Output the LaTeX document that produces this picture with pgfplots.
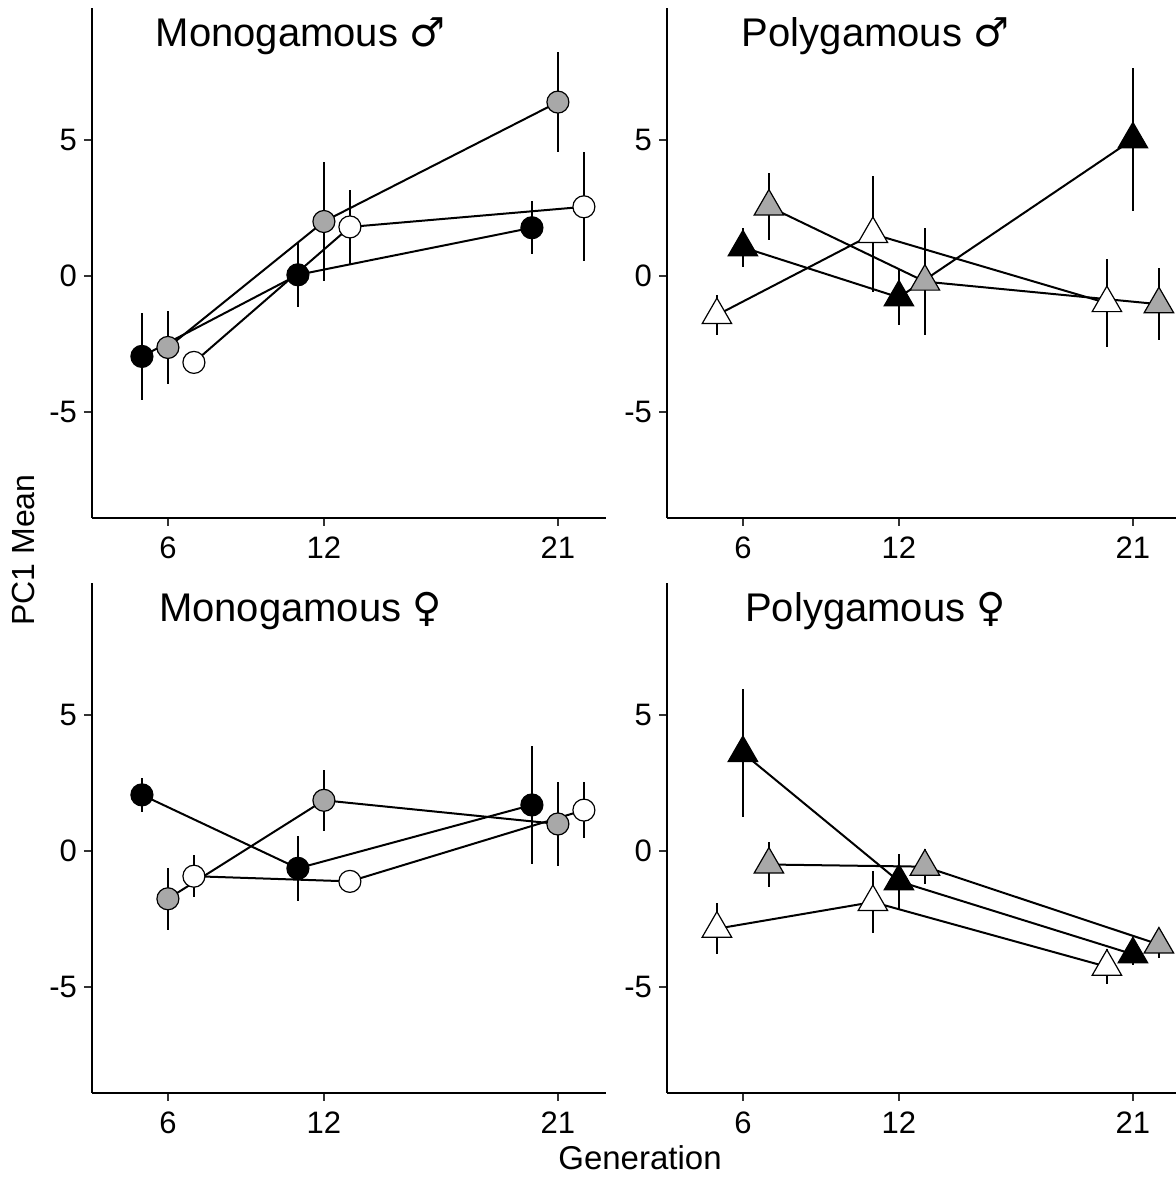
\documentclass[border=0pt]{standalone}
\usepackage{fontspec}
\setmainfont{Liberation Sans}
\newfontfamily\sym{DejaVu Sans}
\usepackage{pgfplots}
\usepackage{pgfplotstable}
\pgfplotsset{compat=1.18}
\definecolor{pgrey}{HTML}{A8A8A8}

% one table per series: x is generation (dodged by +-1), e = SE
\pgfplotstableread{
x y e
5 -2.96 1.60
11 0.04 1.20
20 1.77 0.98
}\TLb
\pgfplotstableread{
x y e
6 -2.63 1.35
12 2.00 2.20
21 6.39 1.85
}\TLg
\pgfplotstableread{
x y e
7 -3.18 0.30
13 1.80 1.35
22 2.54 2.00
}\TLw
\pgfplotstableread{
x y e
5 -1.44 0.75
11 1.54 2.15
20 -1.00 1.62
}\TRw
\pgfplotstableread{
x y e
6 1.05 0.72
12 -0.79 1.02
21 5.02 2.64
}\TRb
\pgfplotstableread{
x y e
7 2.55 1.24
13 -0.21 1.98
22 -1.04 1.33
}\TRg
\pgfplotstableread{
x y e
5 2.06 0.62
11 -0.64 1.20
20 1.69 2.17
}\BLb
\pgfplotstableread{
x y e
6 -1.76 1.15
12 1.86 1.12
21 0.99 1.53
}\BLg
\pgfplotstableread{
x y e
7 -0.93 0.78
13 -1.12 0.30
22 1.50 1.02
}\BLw
\pgfplotstableread{
x y e
5 -2.86 0.93
11 -1.88 1.13
20 -4.26 0.64
}\BRw
\pgfplotstableread{
x y e
6 3.60 2.35
12 -1.12 1.00
21 -3.80 0.40
}\BRb
\pgfplotstableread{
x y e
7 -0.50 0.84
13 -0.58 0.64
22 -3.44 0.50
}\BRg

\pgfplotsset{
  panel/.style={scale only axis, width=257pt, height=255pt,
    xmin=3.08, xmax=22.85, ymin=-8.9, ymax=9.85,
    axis x line*=bottom, axis y line*=left,
    xtick={6,12,21}, ytick={-5,0,5},
    tick align=outside, major tick length=4pt,
    axis line style={line width=1.3pt},
    tick style={line width=1.1pt, black!80},
    ticklabel style={font=\fontsize{15.5}{17}\selectfont},
    xticklabel style={yshift=-2pt},
    /pgf/number format/assume math mode=true,
    clip=false, anchor=south west},
  conn/.style={black, line width=1pt, mark=none,
    error bars/y dir=both, error bars/y explicit,
    error bars/error mark=none,
    error bars/error bar style={line width=1.4pt}},
  circ/.style={only marks, mark=*, mark size=5.5pt,
    mark options={draw=black, fill=#1, line width=0.6pt}},
  tri/.style={only marks, mark=triangle*, mark size=8.5pt,
    mark options={draw=black, fill=#1, line width=0.6pt}},
}
\newcommand{\ttl}[1]{\node[anchor=base, font=\fontsize{20}{22}\selectfont] at (axis cs:11.1,8.42) {#1};}

\begin{document}
\begin{tikzpicture}
\path[use as bounding box] (0,0) rectangle (588pt,589pt);

% top left
\begin{axis}[panel, at={(46pt,330pt)}]
\addplot[conn] table[x=x,y=y,y error=e] {\TLb};
\addplot[conn] table[x=x,y=y,y error=e] {\TLg};
\addplot[conn] table[x=x,y=y,y error=e] {\TLw};
\addplot[circ=black] table[x=x,y=y] {\TLb};
\addplot[circ=pgrey] table[x=x,y=y] {\TLg};
\addplot[circ=white] table[x=x,y=y] {\TLw};
\ttl{Monogamous {\sym ♂}}
\end{axis}

% top right
\begin{axis}[panel, at={(333.5pt,330pt)}]
\addplot[conn] table[x=x,y=y,y error=e] {\TRw};
\addplot[conn] table[x=x,y=y,y error=e] {\TRb};
\addplot[conn] table[x=x,y=y,y error=e] {\TRg};
\addplot[tri=white] table[x=x,y=y] {\TRw};
\addplot[tri=black] table[x=x,y=y] {\TRb};
\addplot[tri=pgrey] table[x=x,y=y] {\TRg};
\ttl{Polygamous {\sym ♂}}
\end{axis}

% bottom left
\begin{axis}[panel, at={(46pt,42.5pt)}]
\addplot[conn] table[x=x,y=y,y error=e] {\BLb};
\addplot[conn] table[x=x,y=y,y error=e] {\BLg};
\addplot[conn] table[x=x,y=y,y error=e] {\BLw};
\addplot[circ=black] table[x=x,y=y] {\BLb};
\addplot[circ=pgrey] table[x=x,y=y] {\BLg};
\addplot[circ=white] table[x=x,y=y] {\BLw};
\ttl{Monogamous {\sym ♀}}
\end{axis}

% bottom right
\begin{axis}[panel, at={(333.5pt,42.5pt)}]
\addplot[conn] table[x=x,y=y,y error=e] {\BRw};
\addplot[conn] table[x=x,y=y,y error=e] {\BRb};
\addplot[conn] table[x=x,y=y,y error=e] {\BRg};
\addplot[tri=white] table[x=x,y=y] {\BRw};
\addplot[tri=black] table[x=x,y=y] {\BRb};
\addplot[tri=pgrey] table[x=x,y=y] {\BRg};
\ttl{Polygamous {\sym ♀}}
\end{axis}

\node[rotate=90, font=\fontsize{16}{18}\selectfont] at (11.5pt,314pt) {PC1 Mean};
\node[anchor=base, font=\fontsize{16.5}{18}\selectfont] at (320pt,4pt) {Generation};
\end{tikzpicture}
\end{document}
